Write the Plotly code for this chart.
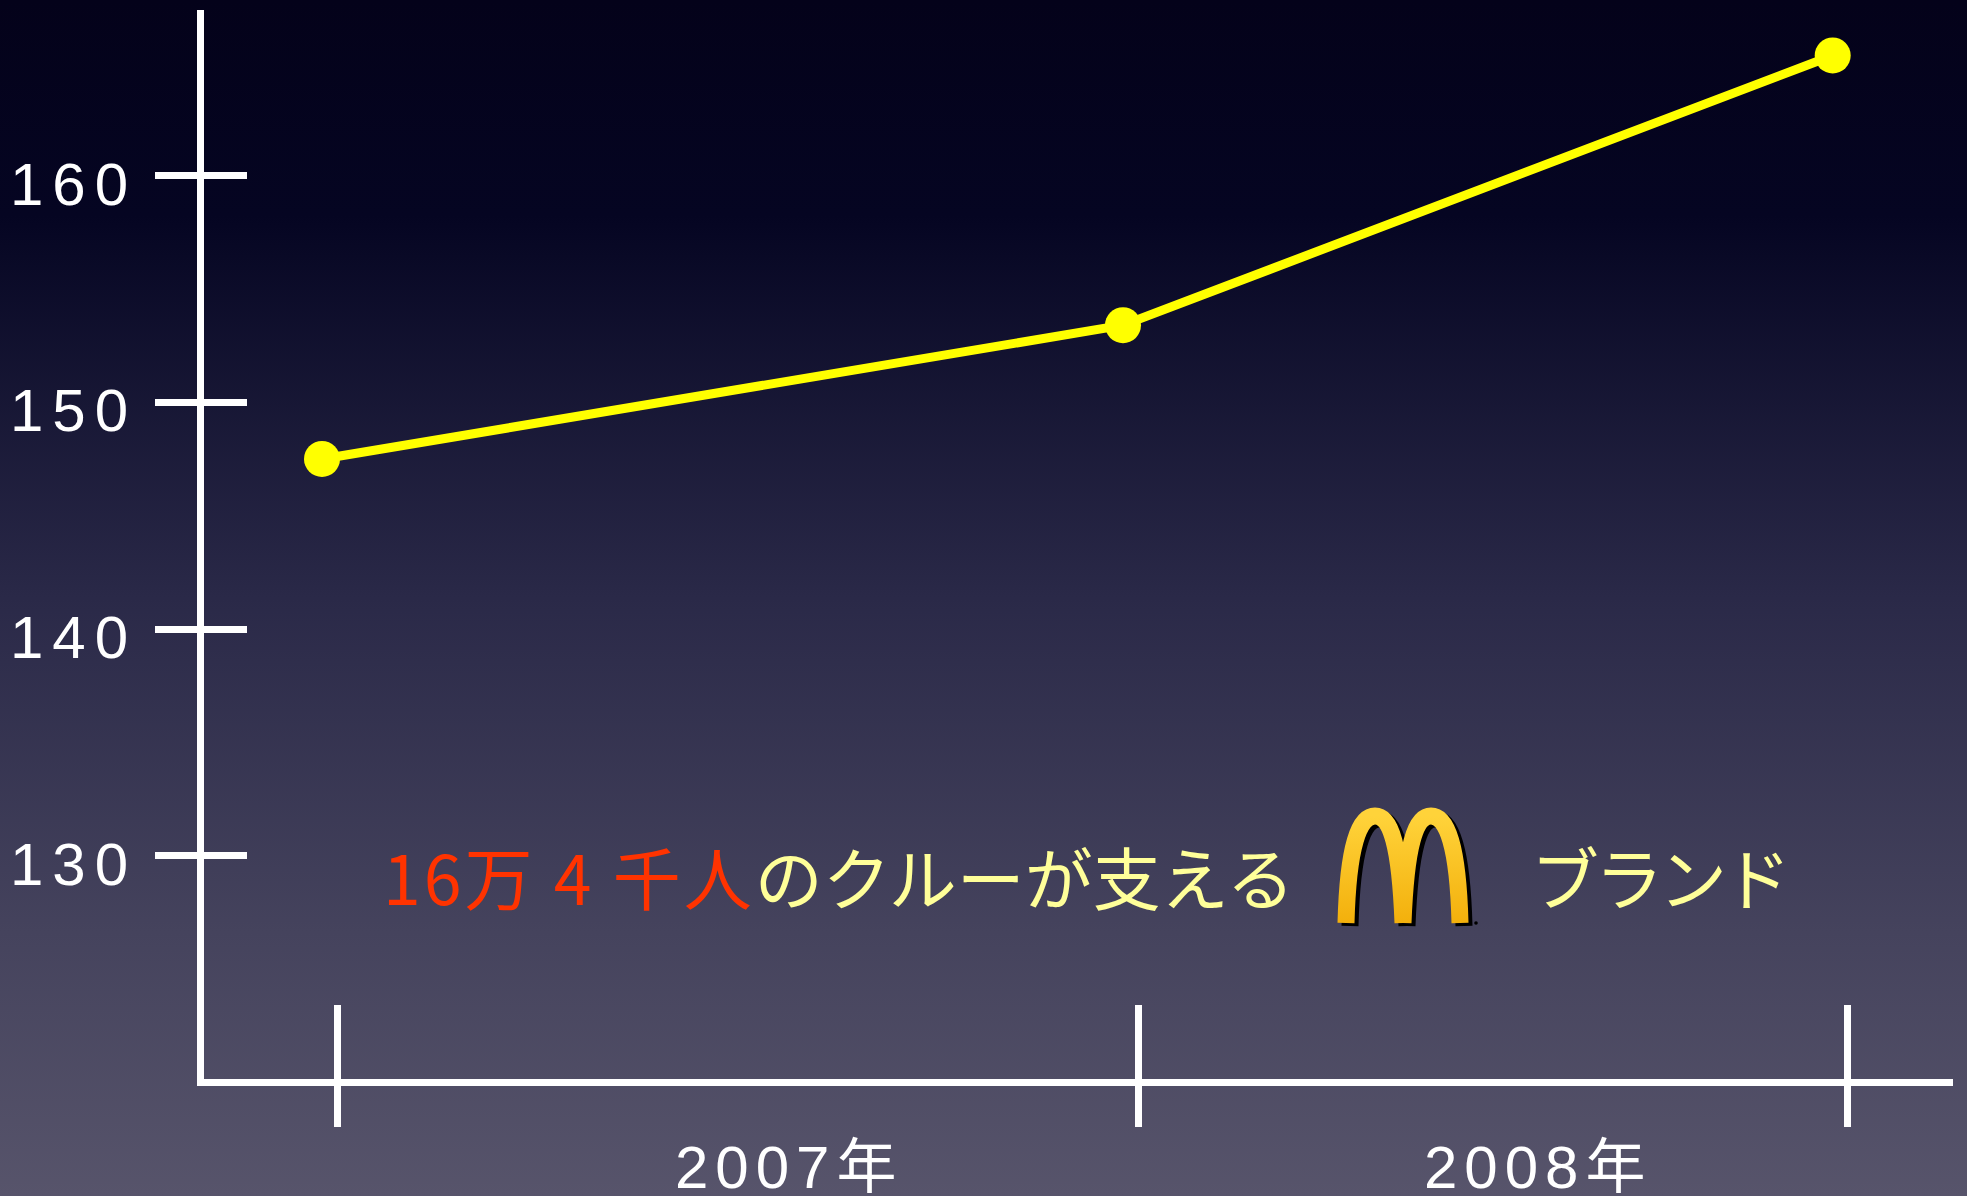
import base64
import plotly.graph_objects as go

# ---------------- data ----------------
period_pos = [0.0, 1.0, 1.886]            # x positions of the three observations
crew_thousands = [147.5, 153.4, 165.3]    # crew (thousand people)
year_boundaries = [0.019, 1.019, 1.905]   # tick marks on the x axis
year_labels = ["2007年", "2008年"]
year_label_pos = [0.579, 1.514]
y_ticks = [130, 140, 150, 160]
headline_red = "16万 4 千人"
headline_rest = "のクルーが支える"
brand_word = "ブランド"

# ---------------- layout geometry ----------------
W, H = 1967, 1196
L, R, T, B = 204, 14, 10, 117
PW, PH = W - L - R, H - T - B
X_RANGE = [-0.1473, 2.0362]
Y_RANGE = [120.15, 167.305]


def px_x(p):
    return (p - L) / PW


def px_y(p):
    return (H - B - p) / PH


def svg_uri(svg):
    return "data:image/svg+xml;base64," + base64.b64encode(svg.encode("utf-8")).decode()


def spaced(txt, px):
    return f"<span style='letter-spacing:{px}px'>{txt}</span>"


bg_svg = f'''<svg xmlns="http://www.w3.org/2000/svg" width="{W}" height="{H}" viewBox="0 0 {W} {H}" preserveAspectRatio="none">
<defs><linearGradient id="g" x1="0" y1="0" x2="0" y2="1">
<stop offset="0" stop-color="#04021a"/>
<stop offset="0.18" stop-color="#050522"/>
<stop offset="0.5" stop-color="#2a2948"/>
<stop offset="0.78" stop-color="#45435d"/>
<stop offset="1" stop-color="#57546b"/>
</linearGradient></defs>
<rect width="{W}" height="{H}" fill="url(#g)"/></svg>'''

arch_path = "M11 117 C13 40 24 10 40 10 C56 10 65 40 68 117 M68 117 C71 40 80 10 96 10 C112 10 123 40 125 117"
logo_svg = f'''<svg xmlns="http://www.w3.org/2000/svg" width="146" height="122" viewBox="0 0 146 122">
<defs><linearGradient id="a" x1="0" y1="0" x2="0" y2="1">
<stop offset="0" stop-color="#FFD33A"/><stop offset="1" stop-color="#F3B00C"/></linearGradient></defs>
<g fill="none" stroke-linejoin="round">
<path d="{arch_path}" stroke="#000000" stroke-width="17" transform="translate(4,3)"/>
<path d="{arch_path}" stroke="url(#a)" stroke-width="17"/>
</g><circle cx="141" cy="117" r="1.8" fill="#000"/></svg>'''

fig = go.Figure()
fig.add_trace(go.Scatter(
    x=period_pos, y=crew_thousands, mode="lines+markers",
    line=dict(color="#FFFF00", width=9),
    marker=dict(size=36, color="#FFFF00"),
    showlegend=False, cliponaxis=False, hoverinfo="skip"))
# invisible trace carrying the overlay axes (inside half of crossing ticks)
fig.add_trace(go.Scatter(
    x=[period_pos[0]], y=[crew_thousands[0]], xaxis="x2", yaxis="y2",
    mode="markers", marker=dict(opacity=0), showlegend=False, hoverinfo="skip"))

axis_common = dict(showgrid=False, zeroline=False, fixedrange=True)

fig.update_layout(
    width=W, height=H,
    margin=dict(l=L, r=R, t=T, b=B, autoexpand=False),
    paper_bgcolor="#2a2948", plot_bgcolor="rgba(0,0,0,0)",
    xaxis=dict(range=X_RANGE, showline=True, linecolor="white", linewidth=7,
               ticks="outside", ticklen=41, tickwidth=7, tickcolor="white",
               tickvals=year_boundaries, showticklabels=False, **axis_common),
    yaxis=dict(range=Y_RANGE, showline=True, linecolor="white", linewidth=7,
               ticks="outside", ticklen=42, tickwidth=7, tickcolor="white",
               tickvals=y_ticks, ticktext=[spaced(str(v), 9) for v in y_ticks],
               tickfont=dict(family="Liberation Sans, Arial, sans-serif", size=60, color="white"),
               ticklabelstandoff=6, ticklabelshift=8, **axis_common),
    xaxis2=dict(range=X_RANGE, overlaying="x", anchor="y2", side="bottom",
                ticks="inside", ticklen=74, tickwidth=7, tickcolor="white",
                tickvals=year_boundaries, showticklabels=False, showline=False, **axis_common),
    yaxis2=dict(range=Y_RANGE, overlaying="y", anchor="x2", side="left",
                ticks="inside", ticklen=43, tickwidth=7, tickcolor="white",
                tickvals=y_ticks, showticklabels=False, showline=False, **axis_common),
    images=[
        dict(source=svg_uri(bg_svg), xref="paper", yref="paper",
             x=-L / PW, y=1 + T / PH, sizex=W / PW, sizey=H / PH,
             xanchor="left", yanchor="top", sizing="stretch", layer="below"),
        dict(source=svg_uri(logo_svg), xref="paper", yref="paper",
             x=px_x(1335), y=px_y(806), sizex=146 / PW, sizey=122 / PH,
             xanchor="left", yanchor="top", sizing="stretch", layer="above"),
    ],
)

ann = []
for lbl, pos in zip(year_labels, year_label_pos):
    ann.append(dict(x=pos, xref="x", y=0, yref="paper", yshift=-88, xshift=3,
                    text=spaced(lbl, 7), showarrow=False, xanchor="center", yanchor="middle",
                    font=dict(family="Liberation Sans, Noto Sans CJK JP, sans-serif", size=60, color="white")))
ann.append(dict(x=px_x(381), xref="paper", y=px_y(876), yref="paper",
                text=f"<span style='color:#FF3300;letter-spacing:3px'>{headline_red}</span>{headline_rest}",
                showarrow=False, xanchor="left", yanchor="middle",
                font=dict(family="Noto Sans CJK JP", size=68, color="#FFFF99")))
ann.append(dict(x=px_x(1529), xref="paper", y=px_y(876), yref="paper",
                text=spaced(brand_word, -4), showarrow=False, xanchor="left", yanchor="middle",
                font=dict(family="Noto Sans CJK JP", size=68, color="#FFFF99")))
fig.update_layout(annotations=ann)

fig.write_html("out.html", config={"displayModeBar": False})
